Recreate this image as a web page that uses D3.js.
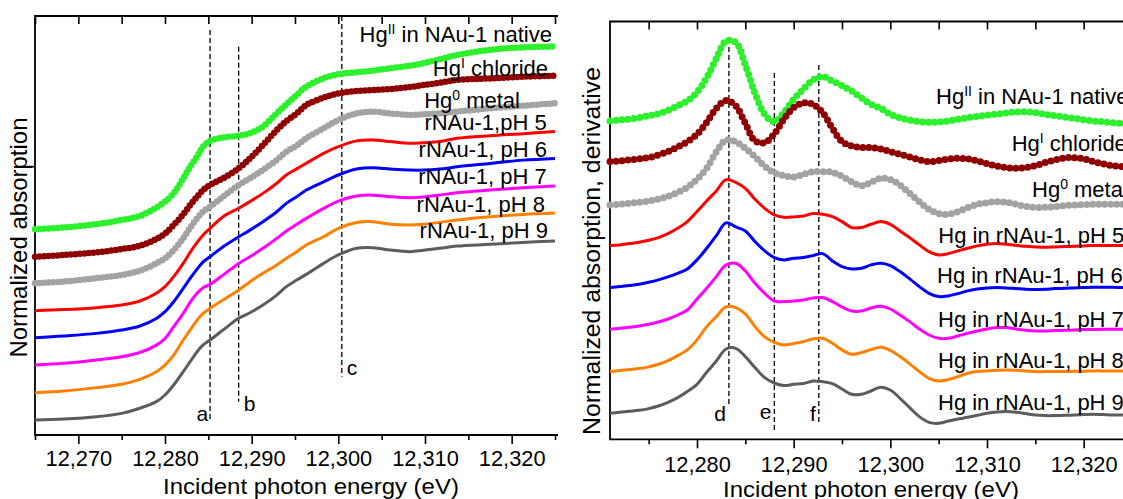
<!DOCTYPE html>
<html>
<head>
<meta charset="utf-8">
<script src="https://cdn.jsdelivr.net/npm/d3@7"></script>
<style>
  body { margin: 0; background: #fff; }
  text { font-family: "Liberation Sans", Arial, sans-serif; fill: #000; }
</style>
</head>
<body>
<div id="chart"></div>
<script>
// ---------- Left panel: normalized XANES (energy grid, eV) ----------
const energyL = [12265, 12268.3, 12272.1, 12275, 12277.1, 12279, 12280, 12281, 12282.1, 12282.9,
  12283.7, 12284.4, 12285.2, 12286.7, 12288.5, 12289.8, 12291.3, 12292.9, 12294, 12295.2,
  12296.3, 12298.3, 12300, 12302.1, 12304, 12306, 12308.3, 12309.8, 12311.7, 12313.7,
  12317.5, 12321.3, 12325];

const absNative   = [0, 0.010, 0.029, 0.053, 0.076, 0.124, 0.158, 0.206, 0.291, 0.358, 0.415, 0.472, 0.505, 0.524, 0.535, 0.549, 0.587, 0.663, 0.714, 0.768, 0.815, 0.863, 0.886, 0.897, 0.907, 0.920, 0.935, 0.949, 0.971, 0.996, 1.025, 1.040, 1.044];
const absChloride = [0, 0.010, 0.025, 0.044, 0.063, 0.101, 0.133, 0.181, 0.242, 0.295, 0.343, 0.381, 0.410, 0.448, 0.505, 0.562, 0.638, 0.724, 0.775, 0.819, 0.867, 0.909, 0.933, 0.947, 0.952, 0.958, 0.970, 0.981, 0.994, 1.010, 1.019, 1.029, 1.034];
const absMetal    = [0, 0.010, 0.029, 0.048, 0.072, 0.114, 0.143, 0.190, 0.257, 0.318, 0.371, 0.410, 0.438, 0.495, 0.562, 0.600, 0.648, 0.705, 0.752, 0.787, 0.829, 0.886, 0.933, 0.971, 0.981, 0.971, 0.962, 0.966, 0.971, 0.981, 1.000, 1.015, 1.029];
const absPH5      = [0, 0.006, 0.017, 0.032, 0.055, 0.099, 0.137, 0.194, 0.270, 0.333, 0.390, 0.432, 0.470, 0.537, 0.585, 0.623, 0.670, 0.728, 0.775, 0.810, 0.842, 0.899, 0.937, 0.970, 0.975, 0.966, 0.956, 0.960, 0.966, 0.985, 1.000, 1.011, 1.023];
const absPH6      = [0, 0.010, 0.025, 0.044, 0.067, 0.110, 0.149, 0.206, 0.282, 0.339, 0.392, 0.434, 0.463, 0.520, 0.577, 0.615, 0.663, 0.720, 0.768, 0.806, 0.844, 0.891, 0.930, 0.964, 0.971, 0.964, 0.958, 0.958, 0.964, 0.977, 0.996, 1.015, 1.025];
const absPH7      = [0, 0.010, 0.029, 0.048, 0.072, 0.114, 0.152, 0.219, 0.295, 0.358, 0.410, 0.442, 0.461, 0.514, 0.581, 0.619, 0.667, 0.724, 0.766, 0.804, 0.838, 0.895, 0.937, 0.966, 0.971, 0.962, 0.956, 0.960, 0.971, 0.985, 1.000, 1.013, 1.023];
const absPH8      = [0, 0.010, 0.029, 0.048, 0.076, 0.120, 0.158, 0.215, 0.301, 0.358, 0.415, 0.453, 0.482, 0.530, 0.587, 0.634, 0.682, 0.730, 0.768, 0.806, 0.844, 0.891, 0.939, 0.973, 0.977, 0.962, 0.958, 0.962, 0.973, 0.987, 1.006, 1.019, 1.027];
const absPH9      = [0, 0.006, 0.019, 0.038, 0.067, 0.105, 0.143, 0.200, 0.276, 0.333, 0.390, 0.429, 0.457, 0.514, 0.581, 0.613, 0.657, 0.714, 0.762, 0.800, 0.832, 0.895, 0.943, 0.981, 0.985, 0.971, 0.962, 0.970, 0.981, 0.994, 1.004, 1.015, 1.023];

// vertical stacking offsets, top spectrum first
const offsetsL = [1.090, 0.933, 0.781, 0.625, 0.470, 0.314, 0.156, 0];

// ---------- Right panel: first derivative ----------
const energyR = [12271, 12272, 12273, 12274, 12275, 12276, 12277, 12278, 12279, 12280,
  12281, 12282, 12283, 12284, 12285, 12286, 12287, 12288, 12289, 12290,
  12291, 12292, 12293, 12294, 12295, 12296, 12297, 12298, 12299, 12300,
  12301, 12302, 12303, 12304, 12305, 12306, 12307, 12308, 12309, 12310,
  12311, 12312, 12313, 12314, 12315, 12316, 12317, 12318, 12319, 12320,
  12321, 12322, 12323, 12324, 12325];

const derNative   = [0, 0.010, 0.020, 0.033, 0.053, 0.073, 0.107, 0.153, 0.200, 0.287, 0.433, 0.627, 0.800, 0.787, 0.560, 0.277, 0.067, -0.007, 0.087, 0.217, 0.320, 0.410, 0.443, 0.400, 0.353, 0.300, 0.233, 0.167, 0.127, 0.067, 0.033, 0.010, -0.007, -0.013, -0.010, 0.000, 0.017, 0.033, 0.047, 0.060, 0.070, 0.080, 0.090, 0.093, 0.083, 0.067, 0.053, 0.040, 0.027, 0.013, 0.000, -0.007, -0.017, -0.023, -0.027];
const derChloride = [0, 0.007, 0.017, 0.027, 0.040, 0.067, 0.100, 0.147, 0.200, 0.273, 0.393, 0.533, 0.610, 0.560, 0.383, 0.207, 0.190, 0.277, 0.427, 0.540, 0.587, 0.573, 0.490, 0.333, 0.200, 0.157, 0.143, 0.140, 0.127, 0.100, 0.073, 0.047, 0.017, 0.000, 0.010, 0.027, 0.033, 0.027, 0.007, -0.020, -0.043, -0.060, -0.067, -0.060, -0.040, -0.010, 0.017, 0.037, 0.040, 0.027, 0.000, -0.023, -0.040, -0.050, -0.053];
const derMetal    = [0, 0.007, 0.017, 0.027, 0.040, 0.060, 0.087, 0.127, 0.177, 0.257, 0.367, 0.533, 0.650, 0.633, 0.567, 0.483, 0.387, 0.320, 0.293, 0.280, 0.307, 0.333, 0.333, 0.327, 0.287, 0.233, 0.193, 0.227, 0.267, 0.253, 0.200, 0.117, 0.033, -0.043, -0.087, -0.093, -0.067, -0.027, 0.007, 0.023, 0.033, 0.027, 0.007, -0.013, -0.023, -0.023, -0.017, -0.007, 0.000, 0.003, 0.007, 0.007, 0.007, 0.007, 0.007];
const derPH5      = [0, 0.007, 0.020, 0.033, 0.053, 0.080, 0.120, 0.173, 0.240, 0.340, 0.447, 0.547, 0.660, 0.633, 0.573, 0.463, 0.373, 0.307, 0.283, 0.287, 0.297, 0.320, 0.313, 0.290, 0.240, 0.180, 0.180, 0.213, 0.240, 0.213, 0.147, 0.080, 0.007, -0.060, -0.093, -0.080, -0.053, -0.027, -0.003, 0.013, 0.020, 0.013, 0.003, -0.007, -0.013, -0.017, -0.013, -0.010, -0.007, -0.003, 0.000, 0.000, 0.000, 0.000, 0.000];
const derPH6      = [0, 0.010, 0.020, 0.033, 0.053, 0.077, 0.107, 0.143, 0.187, 0.277, 0.393, 0.520, 0.647, 0.607, 0.567, 0.460, 0.367, 0.300, 0.277, 0.293, 0.300, 0.320, 0.340, 0.267, 0.210, 0.187, 0.193, 0.227, 0.243, 0.220, 0.160, 0.087, 0.010, -0.057, -0.090, -0.083, -0.060, -0.033, -0.013, -0.003, 0.000, -0.003, -0.010, -0.017, -0.020, -0.017, -0.010, -0.007, -0.003, 0.000, 0.003, 0.003, 0.003, 0.000, 0.000];
const derPH7      = [0, 0.010, 0.020, 0.033, 0.050, 0.073, 0.103, 0.143, 0.193, 0.303, 0.410, 0.527, 0.643, 0.660, 0.583, 0.460, 0.360, 0.283, 0.277, 0.283, 0.293, 0.313, 0.317, 0.277, 0.223, 0.183, 0.183, 0.213, 0.230, 0.203, 0.143, 0.077, 0.003, -0.057, -0.090, -0.090, -0.067, -0.040, -0.017, 0.003, 0.017, 0.017, 0.003, -0.010, -0.017, -0.017, -0.013, -0.010, -0.007, -0.003, -0.003, 0.000, 0.000, 0.000, 0.000];
const derPH8      = [0, 0.010, 0.020, 0.030, 0.047, 0.073, 0.110, 0.160, 0.217, 0.317, 0.450, 0.550, 0.647, 0.640, 0.577, 0.450, 0.347, 0.293, 0.267, 0.280, 0.300, 0.327, 0.333, 0.283, 0.217, 0.173, 0.190, 0.220, 0.243, 0.213, 0.150, 0.077, 0.000, -0.067, -0.093, -0.080, -0.050, -0.017, 0.000, 0.007, 0.013, 0.017, 0.013, 0.007, 0.000, 0.000, 0.000, 0.000, 0.003, 0.003, 0.007, 0.007, 0.007, 0.007, 0.007];
const derPH9      = [0, 0.010, 0.020, 0.030, 0.047, 0.073, 0.110, 0.157, 0.217, 0.290, 0.410, 0.523, 0.643, 0.650, 0.567, 0.457, 0.357, 0.303, 0.277, 0.290, 0.297, 0.323, 0.317, 0.297, 0.243, 0.190, 0.190, 0.223, 0.260, 0.233, 0.150, 0.057, -0.033, -0.090, -0.100, -0.077, -0.057, -0.040, -0.020, 0.000, 0.013, 0.017, 0.010, -0.003, -0.017, -0.023, -0.023, -0.020, -0.017, -0.013, -0.010, -0.013, -0.017, -0.017, -0.017];

const offsetsR = [2.923, 2.517, 2.083, 1.677, 1.257, 0.840, 0.417, 0];

// labels: [main text, superscript, rest]
const labelsL = [["Hg", "II", " in NAu-1 native"], ["Hg", "I", " chloride"], ["Hg", "0", " metal"],
  ["rNAu-1,pH 5"], ["rNAu-1, pH 6"], ["rNAu-1, pH 7"], ["rNAu-1, pH 8"], ["rNAu-1, pH 9"]];
const labelsR = [["Hg", "II", " in NAu-1 native"], ["Hg", "I", " chloride"], ["Hg", "0", " metal"],
  ["Hg in rNAu-1, pH 5"], ["Hg in rNAu-1, pH 6"], ["Hg in rNAu-1, pH 7"], ["Hg in rNAu-1, pH 8"], ["Hg in rNAu-1, pH 9"]];

const majorL = [12270, 12280, 12290, 12300, 12310, 12320];
const minorL = [12265, 12275, 12285, 12295, 12305, 12315, 12325];
const majorR = [12280, 12290, 12300, 12310, 12320];
const minorR = [12275, 12285, 12295, 12305, 12315, 12325];

// reference energies of the dashed markers
const marksL = [["a", 12285.2], ["b", 12288.5], ["c", 12300.4]];
const marksR = [["d", 12283.3], ["e", 12288.0], ["f", 12292.6]];

// ---------- styles / layout ----------
const colors = ["#2cf02c", "#8f0000", "#a3a3a3", "#ff0000", "#0000ff", "#ff00ff", "#ff8000", "#5c5c5c"];
const dotted = [true, true, true, false, false, false, false, false];

const svg = d3.select('#chart').append('svg')
  .attr('width', 1123)
  .attr('height', 499)
  .style('display', 'block');

const xL = d3.scaleLinear().domain([12265, 12325]).range([35, 555]);
const yL = d3.scaleLinear().domain([-0.0857, 2.3086]).range([435, 16]);
const xR = d3.scaleLinear().domain([12271, 12325]).range([610, 1132]);
const yR = d3.scaleLinear().domain([-0.26, 3.918]).range([439.3, 21.5]);

function drawAxes(x, y, major, minor, right, labelY) {
  const x0 = x.range()[0], x1 = right;
  const yb = y.range()[0], yt = y.range()[1];

  const gb = svg.append('g').attr('transform', `translate(0,${yb})`)
    .call(d3.axisBottom(x).tickValues(major).tickSize(9).tickSizeOuter(0).tickFormat(d3.format(',')));
  gb.attr('font-size', null).attr('font-family', null);
  gb.select('.domain').remove();
  gb.selectAll('line').attr('stroke', '#000').attr('stroke-width', 1.6);
  gb.selectAll('text').attr('y', labelY).style('font-size', '21.8px');

  const gm = svg.append('g').attr('transform', `translate(0,${yb})`)
    .call(d3.axisBottom(x).tickValues(minor).tickSize(5).tickFormat(''));
  gm.select('.domain').remove();
  gm.selectAll('line').attr('stroke', '#000').attr('stroke-width', 1.6);

  // mirrored ticks on the top frame, pointing inward
  const gt = svg.append('g').attr('transform', `translate(0,${yt})`)
    .call(d3.axisBottom(x).tickValues(major.concat(minor)).tickSize(8).tickFormat(''));
  gt.select('.domain').remove();
  gt.selectAll('line').attr('stroke', '#000').attr('stroke-width', 1.6);

  svg.append('path')
    .attr('d', `M${x1},${yt}H${x0}V${yb}H${x1}`)
    .attr('fill', 'none').attr('stroke', '#000').attr('stroke-width', 1.8);
}

function drawSeries(x, y, energy, list, offsets, dotGap, thinLine) {
  list.forEach((vals, i) => {
    const pts = energy.map((e, k) => [e, vals[k] + offsets[i]]);
    const line = d3.line().x(d => x(d[0])).y(d => y(d[1])).curve(d3.curveCatmullRom.alpha(0.5));
    if (dotted[i]) {
      if (thinLine) {
        svg.append('path').attr('d', line(pts)).attr('fill', 'none')
          .attr('stroke', colors[i]).attr('stroke-width', 1.6);
      }
      svg.append('path').attr('d', line(pts)).attr('fill', 'none')
        .attr('stroke', colors[i]).attr('stroke-width', thinLine ? 7 : 6.5)
        .attr('stroke-linecap', 'round')
        .attr('stroke-dasharray', `0 ${dotGap}`);
    } else {
      svg.append('path').attr('d', line(pts)).attr('fill', 'none')
        .attr('stroke', colors[i]).attr('stroke-width', 3)
        .attr('stroke-linejoin', 'round');
    }
  });
}

function drawMarks(x, marks, tops, bottoms, textPos) {
  marks.forEach((m, i) => {
    svg.append('line')
      .attr('x1', x(m[1])).attr('x2', x(m[1]))
      .attr('y1', tops[i]).attr('y2', bottoms[i])
      .attr('stroke', '#000').attr('stroke-width', 1.3)
      .attr('stroke-dasharray', '5 3');
    const tp = textPos[i];
    svg.append('text')
      .attr('x', x(m[1]) + tp[0]).attr('y', tp[1])
      .attr('text-anchor', tp[0] < 0 ? 'end' : 'start')
      .style('font-size', '21px')
      .text(m[0]);
  });
}

function drawLabels(labels, xs, ys, anchor) {
  labels.forEach((l, i) => {
    const t = svg.append('text').attr('x', xs[i]).attr('y', ys[i])
      .attr('text-anchor', anchor).style('font-size', '22px');
    t.append('tspan').text(l[0]);
    if (l.length > 1) {
      t.append('tspan').attr('dy', -8).style('font-size', '14px').text(l[1]);
      t.append('tspan').attr('dy', 8).text(l[2]);
    }
  });
}

// x title: slightly wide lettering as in the original figure
function xTitle(cx, baseline) {
  svg.append('text')
    .attr('transform', `translate(${cx},${baseline}) scale(1.09,1)`)
    .attr('text-anchor', 'middle')
    .style('font-size', '22px')
    .text('Incident photon energy (eV)');
}

// ----- left panel -----
drawAxes(xL, yL, majorL, minorL, 558, 16);
const gy = svg.append('g').attr('transform', 'translate(35,0)')
  .call(d3.axisLeft(yL).tickValues([1.45]).tickSize(5).tickFormat(''));
gy.select('.domain').remove();
gy.selectAll('line').attr('stroke', '#000').attr('stroke-width', 1.6);

drawMarks(xL, marksL, [30, 46.7, 16], [422, 401.7, 376.7], [[-2, 421], [5, 411], [5, 375]]);
drawSeries(xL, yL, energyL,
  [absNative, absChloride, absMetal, absPH5, absPH6, absPH7, absPH8, absPH9], offsetsL, 4.5, false);
drawLabels(labelsL, [552, 548, 520, 546.7, 547, 546.7, 545, 548],
  [42.3, 75.7, 107.7, 130, 156.7, 184, 211.7, 238.3], 'end');

xTitle(311, 494);
svg.append('text').attr('transform', 'translate(27.3,237.5) rotate(-90)').attr('text-anchor', 'middle')
  .style('font-size', '24px').text('Normalized absorption');

// ----- right panel -----
drawAxes(xR, yR, majorR, minorR, 1140, 17);
drawMarks(xR, marksR, [47, 73, 65], [405, 430, 423], [[-3, 421], [-3, 419], [-3, 421]]);
drawSeries(xR, yR, energyR,
  [derNative, derChloride, derMetal, derPH5, derPH6, derPH7, derPH8, derPH9], offsetsR, 6, true);
drawLabels(labelsR, [936, 1011.7, 1032, 938.3, 937, 938, 938, 938],
  [104.3, 151, 196.7, 243.3, 283.3, 326.7, 368.3, 410], 'start');

xTitle(871, 496.5);
svg.append('text').attr('transform', 'translate(600,251) rotate(-90)').attr('text-anchor', 'middle')
  .style('font-size', '24.8px').text('Normalized absorption, derivative');
</script>
</body>
</html>
